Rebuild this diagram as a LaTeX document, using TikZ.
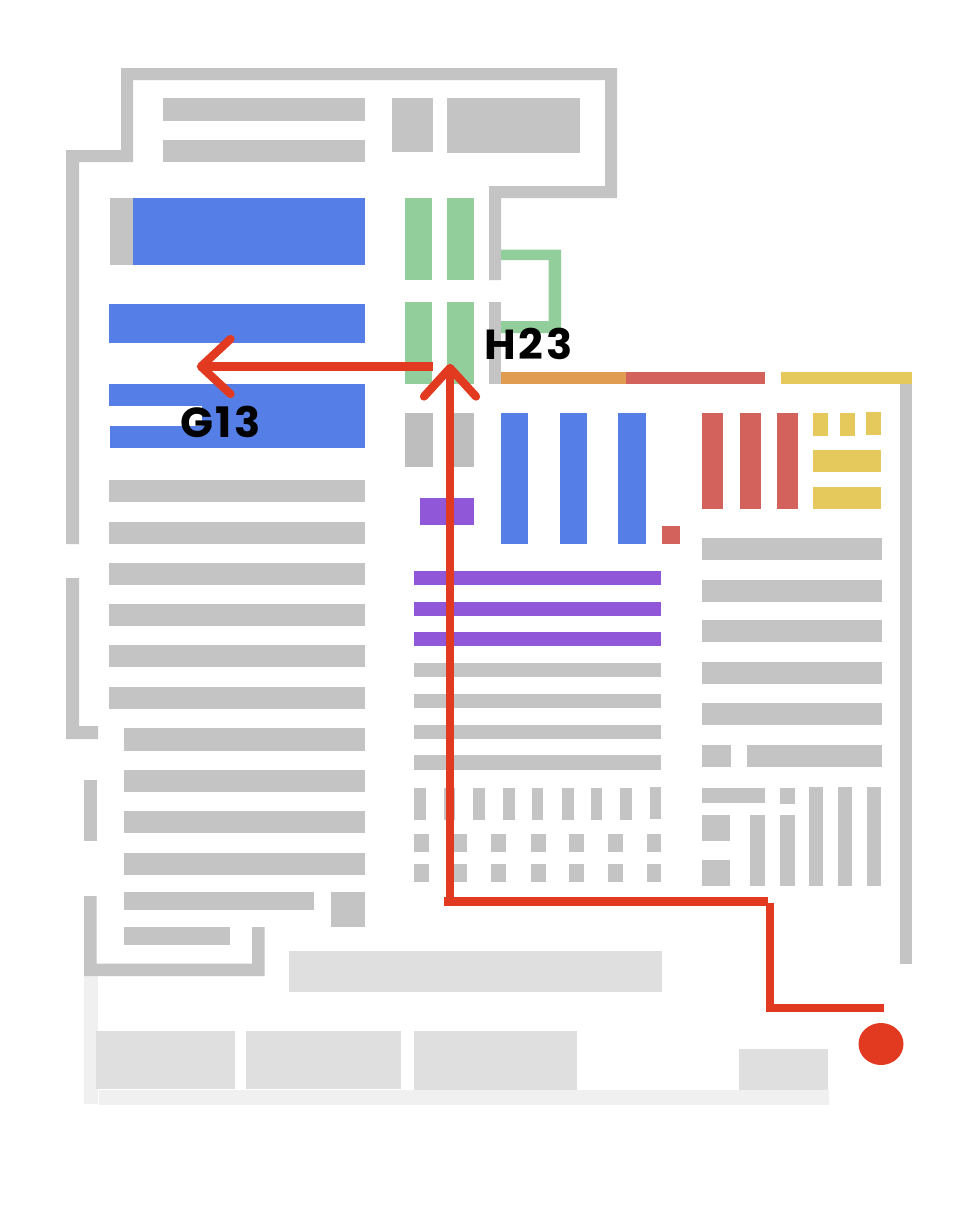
\documentclass[tikz,border=0pt]{standalone}
\usepackage{fontspec}
\usetikzlibrary{shapes.geometric}
\setmainfont{Liberation Sans}
\newfontfamily\lblfont[LetterSpace=6]{Poppins}
\definecolor{wallc}{HTML}{C4C4C4}
\definecolor{pale}{HTML}{DFDFDF}
\definecolor{paler}{HTML}{F0F0F0}
\definecolor{blueA}{HTML}{557FE6}
\definecolor{greenA}{HTML}{92CE9C}
\definecolor{orangeA}{HTML}{E09D52}
\definecolor{redA}{HTML}{D3625C}
\definecolor{yellowA}{HTML}{E6C95C}
\definecolor{purpleA}{HTML}{9058D8}
\definecolor{routec}{HTML}{E23A20}
\newcommand\BX[5]{\fill[#1] (#2,#3) rectangle (#4,#5);}
\tikzset{
  route/.style={draw=routec,line width=6.2pt,line cap=butt},
  routehead/.style={draw=routec,line width=6.2pt,line cap=round,line join=round},
  lbl/.style={font=\fontsize{31.5pt}{32pt}\selectfont\lblfont\bfseries,text=black,inner sep=0pt},
  marker/.style={fill=routec,ellipse,draw=none,inner sep=0pt,minimum width=33.75pt,minimum height=31.5pt}
}
\begin{document}
\begin{tikzpicture}[x=0.75pt,y=-0.75pt]
\useasboundingbox (0,0) rectangle (980,1215);
\fill[white] (0,0) rectangle (980,1215);
% very pale outline
\BX{paler}{84}{976}{98}{1104}
\BX{paler}{99}{1090}{829}{1105}
% pale rooms
\BX{pale}{289}{951}{662}{992}
\BX{pale}{96}{1031}{235}{1089}
\BX{pale}{246}{1031}{401}{1089}
\BX{pale}{414}{1031}{577}{1090}
\BX{pale}{739}{1049}{828}{1090}
% walls
\fill[wallc] (66,544) -- (66,150) -- (121,150) -- (121,68) -- (617,68) -- (617,198) -- (501,198) -- (501,280) -- (489,280) -- (489,186) -- (605,186) -- (605,80) -- (133,80) -- (133,162) -- (79,162) -- (79,544) -- cycle;
\BX{wallc}{489}{302}{501}{384}
\fill[wallc] (66,578) -- (79,578) -- (79,726) -- (98,726) -- (98,739) -- (66,739) -- cycle;
\BX{wallc}{84}{780}{97}{841}
\fill[wallc] (84,896) -- (96.5,896) -- (96.5,963.5) -- (252,963.5) -- (252,927) -- (264.5,927) -- (264.5,976) -- (84,976) -- cycle;
\BX{wallc}{900}{384}{912}{964}
% top block
\BX{wallc}{163}{98}{365}{121}
\BX{wallc}{163}{140}{365}{162}
\BX{wallc}{392}{98}{433}{152}
\BX{wallc}{447}{98}{580}{153}
% left block rows
\BX{wallc}{110}{198}{133}{265}
\foreach \a/\b in {480/502,522/544,563/585,604/626,645/667,687/709}{\BX{wallc}{109}{\a}{365}{\b}}
\foreach \a/\b in {728/750.5,769.5/792,811/833,853/875}{\BX{wallc}{123.5}{\a}{365}{\b}}
\BX{wallc}{123.5}{892}{314}{910}
\BX{wallc}{331}{892}{365}{927}
\BX{wallc}{123.5}{927}{230}{945}
% blue left
\BX{blueA}{133}{198}{365}{265}
\BX{blueA}{109}{304}{365}{343}
\BX{blueA}{109}{383.5}{365}{405.5}
\BX{blueA}{110}{426}{365}{448}
\BX{blueA}{202}{405}{365}{427}
% green
\foreach \a in {405,447}{\BX{greenA}{\a}{198}{\a+27.3}{280}\BX{greenA}{\a}{302}{\a+27.3}{384}}
\fill[greenA] (501,249.5) -- (561,249.5) -- (561,333) -- (501,333) -- (501,321) -- (548.5,321) -- (548.5,260) -- (501,260) -- cycle;
% strip
\BX{orangeA}{501}{372}{626}{384}
\BX{redA}{626}{372}{765}{384}
\BX{yellowA}{781}{372}{912}{384}
% centre
\BX{wallc!97!black}{405}{413}{432.5}{467}
\BX{wallc!97!black}{447}{413}{474}{467}
\BX{purpleA}{420}{497.5}{474}{524.5}
\foreach \a in {501,559.7,618.3}{\BX{blueA}{\a}{413}{\a+27.3}{543.7}}
\BX{redA}{662}{526}{680}{544}
\foreach \a in {702,739.5,777}{\BX{redA}{\a}{413}{\a+21.4}{509}}
\BX{yellowA}{813}{413}{828}{436}
\BX{yellowA}{840}{413}{855}{436}
\BX{yellowA}{866}{412}{881}{434.5}
\BX{yellowA}{813}{450}{881}{472}
\BX{yellowA}{813}{487}{881}{509}
% right rows
\foreach \a in {538,579.5,620,661.5,703}{\BX{wallc}{702}{\a}{881.5}{\a+22}}
\BX{wallc}{702}{744.5}{731}{766.5}
\BX{wallc}{747}{744.5}{881.5}{766.5}
\BX{wallc}{702}{788}{764.5}{802.5}
\BX{wallc}{780}{788}{794.5}{803.5}
\foreach \a in {809,838,867}{\BX{wallc}{\a}{787}{\a+14.4}{885.5}}
\BX{wallc}{702}{815}{730}{841}
\BX{wallc}{702}{859.5}{730}{885.5}
\BX{wallc}{750}{815}{764.5}{885.5}
\BX{wallc}{780}{815}{794.5}{885.5}
% middle rows
\foreach \a in {571,601.5,632}{\BX{purpleA}{414}{\a}{661}{\a+14}}
\foreach \a in {662.5,693.5,724.5,755}{\BX{wallc}{414}{\a}{661}{\a+14.7}}
\foreach \a in {414,443.7,473,503,531.7,562,590.7,620.3}{\BX{wallc}{\a}{788}{\a+11.5}{820}}
\BX{wallc}{649.7}{787}{661}{819}
\foreach \a in {414,452.7,491.3,531,569.3,608,646.7}{\BX{wallc}{\a}{834.3}{\a+14.5}{851.6}\BX{wallc}{\a}{864.3}{\a+14.5}{881.6}}
% route
\coordinate (u0) at (450,905);
\coordinate (u1) at (450,368);
\coordinate (uL) at (424,396.5);
\coordinate (uR) at (476,396.5);
\coordinate (l0) at (433,366.5);
\coordinate (l1) at (201,366.5);
\coordinate (lU) at (230.5,339);
\coordinate (lD) at (230.5,394);
\coordinate (h0) at (444,901.5);
\coordinate (h1) at (767.5,901.5);
\coordinate (v0) at (770.3,903);
\coordinate (v1) at (770.3,1012);
\coordinate (e0) at (766,1008);
\coordinate (e1) at (883.7,1008);
\draw[route] (u0) -- (u1);
\draw[routehead] (uL) -- (u1) -- (uR);
\draw[route] (l0) -- (l1);
\draw[routehead] (lU) -- (l1) -- (lD);
\draw[route] (h0) -- (h1);
\draw[route] (v0) -- (v1);
\draw[route] (e0) -- (e1);
\node[marker] (dot) at (881,1044) {};
% labels
\node[lbl] (g13) at (220.5,422) {\scalebox{1.03}[1]{G13}};
\node[lbl] (h23) at (528.5,344) {\scalebox{1.03}[1]{H23}};
\end{tikzpicture}
\end{document}
